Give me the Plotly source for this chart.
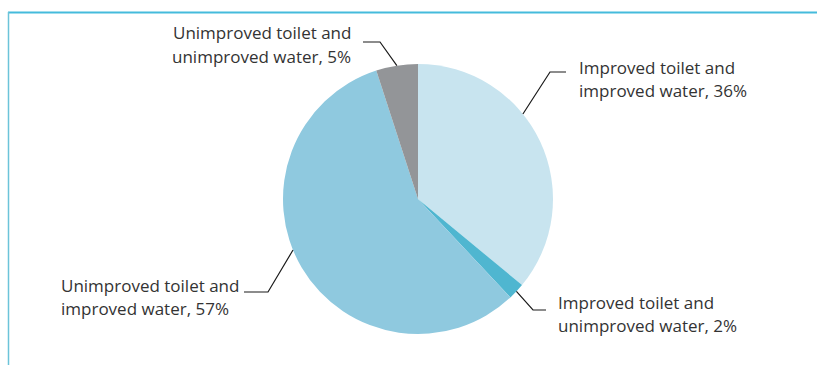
import math
import plotly.graph_objects as go

# Household access shares (percent)
categories = [
    "Improved toilet and improved water",
    "Improved toilet and unimproved water",
    "Unimproved toilet and improved water",
    "Unimproved toilet and unimproved water",
]
shares = [36, 2, 57, 5]
label_lines = [
    ("Improved toilet and", "improved water, 36%"),
    ("Improved toilet and", "unimproved water, 2%"),
    ("Unimproved toilet and", "improved water, 57%"),
    ("Unimproved toilet and", "unimproved water, 5%"),
]
colors = ["#c8e4ef", "#4fb6d0", "#8fc9df", "#939598"]

W, H = 817, 365
CX, CY, R = 418, 199, 135  # pie centre / radius in px

def px(x):
    return x / W

def py(y):
    return 1 - y / H

# label layout: angle offset from slice middle (deg), elbow, line end, text anchor
label_layout = [
    dict(dang=-13.8, elbow=(550, 72), end=(566, 72), tx=577, ty=(67, 90), anchor="left"),
    dict(dang=0.0, elbow=(533, 310), end=(546, 310), tx=556, ty=(302, 325), anchor="left"),
    dict(dang=8.4, elbow=(268, 292), end=(244, 292), tx=59, ty=(285, 308), anchor="left"),
    dict(dang=0.0, elbow=(380, 42), end=(363, 42), tx=353, ty=(33, 56), anchor="right"),
]

fig = go.Figure(
    go.Pie(
        labels=categories,
        values=shares,
        marker=dict(colors=colors, line=dict(width=0)),
        sort=False,
        direction="clockwise",
        rotation=0,
        textinfo="none",
        hoverinfo="label+percent",
        domain=dict(x=[px(CX - R), px(CX + R)], y=[py(CY + R), py(CY - R)]),
        showlegend=False,
    )
)

total = sum(shares)
shapes = []
annotations = []
start = 0.0
font = dict(family="Open Sans, Noto Sans, sans-serif", size=17, color="#333333")
for val, lines, lay in zip(shares, label_lines, label_layout):
    span = 360.0 * val / total
    ang = math.radians(start + span / 2 + lay["dang"])
    start += span
    ax = CX + R * math.sin(ang)
    ay = CY - R * math.cos(ang)
    ex, ey = lay["elbow"]
    fx, fy = lay["end"]
    path = f"M {px(ax)} {py(ay)} L {px(ex)} {py(ey)} L {px(fx)} {py(fy)}"
    shapes.append(dict(type="path", xref="paper", yref="paper", path=path,
                       line=dict(color="#1a1a1a", width=1.2)))
    for text, ty in zip(lines, lay["ty"]):
        annotations.append(dict(
            x=px(lay["tx"]), y=py(ty), xref="paper", yref="paper",
            text=text, showarrow=False, xanchor=lay["anchor"], yanchor="middle",
            align=lay["anchor"], font=font,
        ))

# frame lines along top and left edges
shapes.append(dict(type="line", xref="paper", yref="paper",
                   x0=px(8), x1=1.0, y0=py(12.5), y1=py(12.5),
                   line=dict(color="#45bbdc", width=2)))
shapes.append(dict(type="line", xref="paper", yref="paper",
                   x0=px(8.5), x1=px(8.5), y0=py(12), y1=0.0,
                   line=dict(color="#6cc4d9", width=1.5)))

fig.update_layout(
    width=W, height=H,
    margin=dict(l=0, r=0, t=0, b=0),
    paper_bgcolor="white",
    plot_bgcolor="white",
    shapes=shapes,
    annotations=annotations,
)

fig.write_html("out.html")
